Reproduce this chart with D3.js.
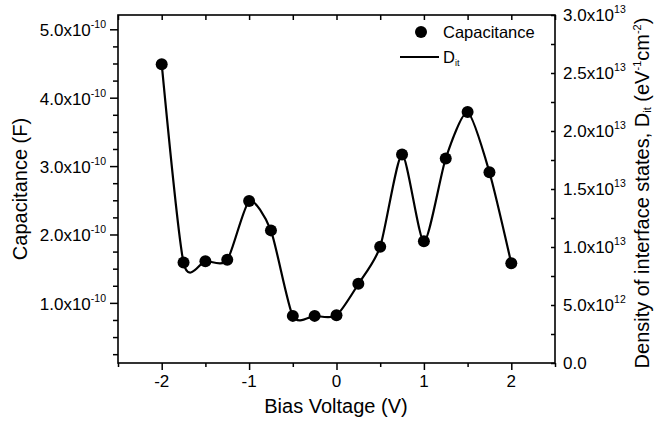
<!DOCTYPE html>
<html>
<head>
<meta charset="utf-8">
<script src="https://cdn.jsdelivr.net/npm/d3@7"></script>
<style>
  html, body { margin: 0; padding: 0; background: #fff; }
  svg { display: block; font-family: "Liberation Sans", Arial, sans-serif; }
</style>
</head>
<body>
<svg id="chart" width="656" height="424"></svg>
<script>
// ---- data ----
const voltage = [-2, -1.75, -1.5, -1.25, -1, -0.75, -0.5, -0.25, 0, 0.25, 0.5, 0.75, 1, 1.25, 1.5, 1.75, 2];
const capacitance = [4.49e-10, 1.59e-10, 1.61e-10, 1.63e-10, 2.49e-10, 2.06e-10, 0.81e-10, 0.81e-10, 0.82e-10, 1.28e-10, 1.82e-10, 3.17e-10, 1.90e-10, 3.11e-10, 3.79e-10, 2.91e-10, 1.58e-10];
const dit = [2.578e13, 0.865e13, 0.879e13, 0.888e13, 1.394e13, 1.141e13, 0.405e13, 0.405e13, 0.411e13, 0.681e13, 1.003e13, 1.796e13, 1.046e13, 1.765e13, 2.161e13, 1.644e13, 0.859e13];

const xMajor = [-2, -1, 0, 1, 2];
const xMinor = [-2.5, -1.5, -0.5, 0.5, 1.5, 2.5];
const xLabels = ["-2", "-1", "0", "1", "2"];

const leftMajor = [1e-10, 2e-10, 3e-10, 4e-10, 5e-10];
const leftMinor = [0.25e-10, 0.5e-10, 0.75e-10, 1.25e-10, 1.5e-10, 1.75e-10, 2.25e-10, 2.5e-10, 2.75e-10, 3.25e-10, 3.5e-10, 3.75e-10, 4.25e-10, 4.5e-10, 4.75e-10];
const leftLabels = ["1.0", "2.0", "3.0", "4.0", "5.0"];
const leftExp = "-10";

const rightMajor = [0, 5e12, 1e13, 1.5e13, 2e13, 2.5e13, 3e13];
const rightMinor = [2.5e12, 7.5e12, 1.25e13, 1.75e13, 2.25e13, 2.75e13];
const rightLabels = [["0.0", ""], ["5.0x10", "12"], ["1.0x10", "13"], ["1.5x10", "13"], ["2.0x10", "13"], ["2.5x10", "13"], ["3.0x10", "13"]];

// ---- layout ----
const L = 118, R = 555, T = 15, B = 363;
const svg = d3.select("#chart");

const x = d3.scaleLinear().domain([-2.5, 2.5]).range([L, R]);
const yL = d3.scaleLinear().domain([0.121e-10, 5.209e-10]).range([B, T]);
const yR = d3.scaleLinear().domain([0, 3e13]).range([B, T]);

function styleAxis(g) {
  g.select(".domain").remove();
  g.selectAll(".tick line").attr("stroke", "#000").attr("stroke-width", 1.5);
}

// bottom axis
svg.append("g").attr("transform", `translate(0,${B})`)
  .call(d3.axisBottom(x).tickValues(xMajor).tickSize(7).tickFormat("")).call(styleAxis);
svg.append("g").attr("transform", `translate(0,${B})`)
  .call(d3.axisBottom(x).tickValues(xMinor).tickSize(4).tickFormat("")).call(styleAxis);
// top axis (inward)
svg.append("g").attr("transform", `translate(0,${T})`)
  .call(d3.axisBottom(x).tickValues(xMajor.concat(xMinor)).tickSize(5).tickFormat("")).call(styleAxis);
// left axis
svg.append("g").attr("transform", `translate(${L},0)`)
  .call(d3.axisLeft(yL).tickValues(leftMajor).tickSize(8).tickFormat("")).call(styleAxis);
svg.append("g").attr("transform", `translate(${L},0)`)
  .call(d3.axisLeft(yL).tickValues(leftMinor).tickSize(5).tickFormat("")).call(styleAxis);
// right axis (inward)
svg.append("g").attr("transform", `translate(${R},0)`)
  .call(d3.axisLeft(yR).tickValues(rightMajor.concat(rightMinor)).tickSize(4).tickFormat("")).call(styleAxis);

// frame
svg.append("rect").attr("x", L).attr("y", T).attr("width", R - L).attr("height", B - T)
  .attr("fill", "none").attr("stroke", "#000").attr("stroke-width", 1.6);

// bottom tick labels
svg.append("g").selectAll("text").data(xMajor).join("text")
  .attr("x", d => x(d)).attr("y", B + 24)
  .attr("text-anchor", "middle").attr("font-size", 17).attr("fill", "#000")
  .text((d, i) => xLabels[i]);

// left tick labels
const lt = svg.append("g").selectAll("text").data(leftMajor).join("text")
  .attr("x", L - 12).attr("y", d => yL(d) + 7)
  .attr("text-anchor", "end").attr("font-size", 17).attr("fill", "#000");
lt.append("tspan").text((d, i) => leftLabels[i] + "x10");
lt.append("tspan").attr("font-size", 10.5).attr("dy", -8).text(leftExp);

// right tick labels
const rt = svg.append("g").selectAll("text").data(rightMajor).join("text")
  .attr("x", R + 8).attr("y", d => yR(d) + 6)
  .attr("text-anchor", "start").attr("font-size", 17).attr("fill", "#000");
rt.append("tspan").text((d, i) => rightLabels[i][0]);
rt.append("tspan").attr("font-size", 10.5).attr("dy", -8).text((d, i) => rightLabels[i][1]);

// axis titles
svg.append("text").attr("x", (L + R) / 2 - 0.5).attr("y", 413)
  .attr("text-anchor", "middle").attr("font-size", 20).attr("fill", "#000")
  .text("Bias Voltage (V)");
svg.append("text").attr("transform", `translate(27,${(T + B) / 2}) rotate(-90)`)
  .attr("text-anchor", "middle").attr("font-size", 20).attr("fill", "#000")
  .text("Capacitance (F)");
const rtitle = svg.append("text").attr("transform", `translate(649,${(T + B) / 2 + 4}) rotate(-90)`)
  .attr("text-anchor", "middle").attr("font-size", 20).attr("fill", "#000");
rtitle.append("tspan").text("Density of interface states, D");
rtitle.append("tspan").attr("font-size", 11).attr("dy", 2).text("it");
rtitle.append("tspan").attr("dy", -2).text(" (eV");
rtitle.append("tspan").attr("font-size", 11).attr("dy", -8).text("-1");
rtitle.append("tspan").attr("dy", 8).text("cm");
rtitle.append("tspan").attr("font-size", 11).attr("dy", -8).text("-2");
rtitle.append("tspan").attr("dy", 8).text(")");

// Dit line
const pts = voltage.map((v, i) => [v, dit[i]]);
svg.append("path").datum(pts)
  .attr("fill", "none").attr("stroke", "#000").attr("stroke-width", 2.2)
  .attr("d", d3.line().curve(d3.curveCardinal.tension(0.3)).x(d => x(d[0])).y(d => yR(d[1])));

// Capacitance points
svg.append("g").selectAll("circle").data(voltage).join("circle")
  .attr("cx", d => x(d)).attr("cy", (d, i) => yL(capacitance[i]))
  .attr("r", 6).attr("fill", "#000");

// legend
svg.append("circle").attr("cx", 421).attr("cy", 32).attr("r", 6).attr("fill", "#000");
svg.append("text").attr("x", 443).attr("y", 38).attr("font-size", 16.5).attr("fill", "#000").text("Capacitance");
svg.append("line").attr("x1", 400).attr("x2", 439).attr("y1", 57).attr("y2", 57)
  .attr("stroke", "#000").attr("stroke-width", 2.2);
const lg = svg.append("text").attr("x", 443).attr("y", 63).attr("font-size", 16.5).attr("fill", "#000");
lg.append("tspan").text("D");
lg.append("tspan").attr("font-size", 9).attr("dy", 3).text("it");
</script>
</body>
</html>
